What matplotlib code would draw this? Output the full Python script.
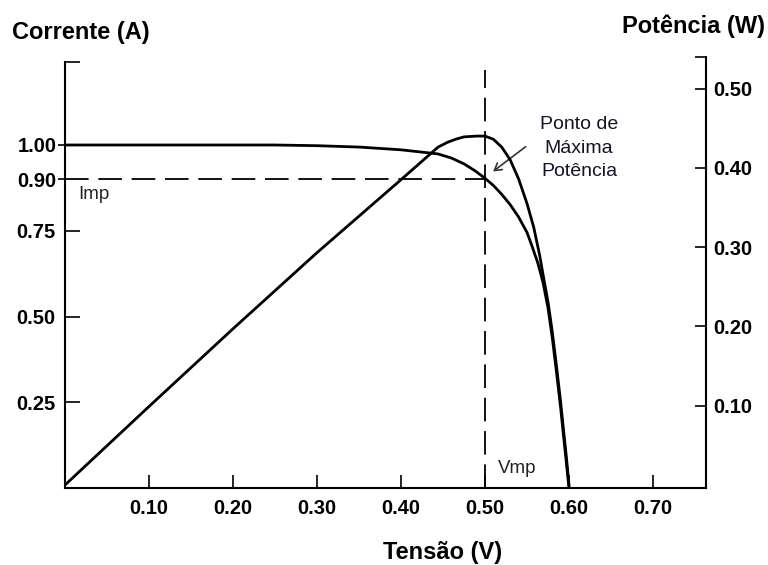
import matplotlib
matplotlib.use("Agg")
import matplotlib.pyplot as plt

plt.rcParams['font.family'] = ['Liberation Sans', 'DejaVu Sans']
plt.rcParams['lines.scale_dashes'] = False

# I-V curve (Tensão V, Corrente A)
iv_v = [0.0, 0.10, 0.20, 0.25, 0.30, 0.35, 0.40, 0.444, 0.46, 0.475, 0.488,
        0.50, 0.51, 0.52, 0.53, 0.54, 0.55, 0.556, 0.563, 0.569, 0.575, 0.580,
        0.585, 0.590, 0.594, 0.597, 0.600]
iv_i = [1.0, 1.0, 1.0, 1.0, 0.998, 0.994, 0.986, 0.974, 0.962, 0.945, 0.925,
        0.903, 0.882, 0.856, 0.826, 0.79, 0.745, 0.705, 0.655, 0.60, 0.525, 0.44,
        0.34, 0.235, 0.14, 0.07, 0.0]

# P-V curve (Tensão V, Potência W)
pv_v = [0.0, 0.10, 0.20, 0.30, 0.40, 0.444, 0.455, 0.465, 0.475, 0.49, 0.50,
        0.51, 0.52, 0.53, 0.54, 0.55, 0.558, 0.565, 0.569, 0.575, 0.580, 0.585,
        0.590, 0.594, 0.597, 0.600]
pv_p = [0.0, 0.099, 0.197, 0.293, 0.385, 0.426, 0.432, 0.436, 0.439, 0.440,
        0.440, 0.436, 0.426, 0.410, 0.386, 0.355, 0.325, 0.29, 0.266, 0.231,
        0.194, 0.151, 0.105, 0.064, 0.034, 0.0]

vmp = 0.50
imp = 0.90

x_ticks = [0.10, 0.20, 0.30, 0.40, 0.50, 0.60, 0.70]
x_labels = ['0.10', '0.20', '0.30', '0.40', '0.50', '0.60', '0.70']
yl_major = [0.25, 0.50, 0.75]
yl_major_labels = ['0.25', '0.50', '0.75']
yl_minor = [0.90, 1.00]
yl_minor_labels = ['0.90', '1.00']
yr_ticks = [0.10, 0.20, 0.30, 0.40, 0.50]
yr_labels = ['0.10', '0.20', '0.30', '0.40', '0.50']

W, H = 768, 565
fig = plt.figure(figsize=(W / 100, H / 100), dpi=100)
ax = fig.add_axes([65 / W, 77 / H, (706 - 65) / W, (488 - 57) / H])

xmax = 641 / 840
ylmax = 431 / 343
left_top = 1.242
ax.set_xlim(0, xmax)
ax.set_ylim(0, ylmax)

ax2 = ax.twinx()
yr0 = -3 / 793
ax2.set_ylim(yr0, yr0 + 431 / 793)

lw = 2.0
ax.plot(iv_v, iv_i, color='black', lw=lw, solid_joinstyle='round', zorder=3)
ax2.plot(pv_v, pv_p, color='black', lw=lw, solid_joinstyle='round', zorder=3)

dash = (0, (17, 7))
ax.plot([0, vmp], [imp, imp], color='black', lw=1.3, linestyle=dash)
ax.plot([vmp, vmp], [0, 1.219], color='black', lw=1.3, linestyle=dash)

# spines
for s in ['top', 'right']:
    ax.spines[s].set_visible(False)
ax.spines['left'].set_bounds(0, left_top)
for s in ['top', 'left', 'bottom']:
    ax2.spines[s].set_visible(False)
for s in [ax.spines['left'], ax.spines['bottom'], ax2.spines['right']]:
    s.set_linewidth(1.5)

tick_font = dict(fontsize=14.5, fontweight='bold')

ax.set_xticks(x_ticks)
ax.set_xticklabels(x_labels, **tick_font)
ax.tick_params(axis='x', direction='in', length=9.5, width=1.2, pad=8)

ax.set_yticks(yl_major + [left_top])
ax.set_yticklabels(yl_major_labels + [''], **tick_font)
ax.tick_params(axis='y', which='major', direction='in', length=11, width=1.2, pad=7)
ax.set_yticks(yl_minor, minor=True)
ax.set_yticklabels(yl_minor_labels, minor=True, **tick_font)
ax.tick_params(axis='y', which='minor', direction='out', length=5, width=1.2, pad=1)

top_r = yr0 + 431 / 793
ax2.set_yticks(yr_ticks + [top_r])
ax2.set_yticklabels(yr_labels + [''], **tick_font)
ax2.tick_params(axis='y', direction='in', length=8, width=1.2, pad=5)

# annotations
txt_color = '#141428'
ax.text(0.612, 0.991, 'Ponto de\nMáxima\nPotência', ha='center', va='center',
        multialignment='center', fontsize=14, color=txt_color, linespacing=1.5)
ax.annotate('', xy=(0.507, 0.918), xytext=(0.551, 1.0),
            arrowprops=dict(arrowstyle='->,head_length=0.5,head_width=0.3',
                            color='#333333', lw=1.2))
ax.text(0.0155, 0.857, 'Imp', ha='left', va='center', fontsize=13.5, color='#222222')
ax.text(0.515, 0.058, 'Vmp', ha='left', va='center', fontsize=13.5, color='#222222')

fig.text(12 / W, 1 - 32 / H, 'Corrente (A)', ha='left', va='center',
         fontsize=17, fontweight='bold')
fig.text(765 / W, 1 - 26 / H, 'Potência (W)', ha='right', va='center',
         fontsize=17, fontweight='bold')
fig.text(443 / W, 1 - 552 / H, 'Tensão (V)', ha='center', va='center',
         fontsize=17, fontweight='bold')

fig.savefig('out.png', dpi=100)
